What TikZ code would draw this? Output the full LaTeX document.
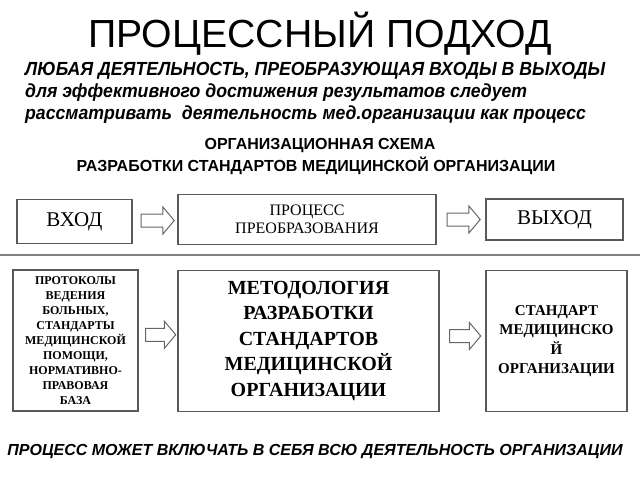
\documentclass[tikz,border=0pt]{standalone}
\usepackage{fontspec}
\setmainfont{Liberation Serif}
\newfontfamily\arial{Liberation Sans}
\usetikzlibrary{shapes.arrows,calc}
\tikzset{
  box/.style={draw=black!65, line width=1.4pt, fill=white, inner sep=0pt, align=center},
  blockarrow/.style={single arrow, draw=black!60, line width=1pt, fill=white,
     minimum height=33pt, minimum width=26pt, inner xsep=0pt, inner ysep=6pt,
     single arrow head extend=7pt, single arrow tip angle=100},
  sep/.style={draw=black!50, line width=2.5pt},
  itline/.style={anchor=west, inner sep=0pt, xscale=0.93},
}
\begin{document}
\begin{tikzpicture}[x=1pt,y=-1pt]
\useasboundingbox (0,0) rectangle (640,480);
\node (title) at (320,34) {\arial\fontsize{39.2}{44}\selectfont ПРОЦЕССНЫЙ ПОДХОД};
\node[anchor=west, inner sep=0pt] (l1) at (25,71) {\arial\bfseries\itshape\fontsize{19}{22}\selectfont\scalebox{0.93}[1]{ЛЮБАЯ ДЕЯТЕЛЬНОСТЬ, ПРЕОБРАЗУЮЩАЯ ВХОДЫ В ВЫХОДЫ}};
\node[anchor=west, inner sep=0pt] (l2) at (25,93) {\arial\bfseries\itshape\fontsize{19}{22}\selectfont\scalebox{0.93}[1]{для эффективного достижения результатов следует}};
\node[anchor=west, inner sep=0pt] (l3) at (25,115) {\arial\bfseries\itshape\fontsize{19}{22}\selectfont\scalebox{0.93}[1]{рассматривать\ \ деятельность мед.организации как процесс}};
\node (s1) at (320,146) {\arial\bfseries\fontsize{16}{18}\selectfont ОРГАНИЗАЦИОННАЯ СХЕМА};
\node (s2) at (316,166) {\arial\bfseries\fontsize{16}{18}\selectfont РАЗРАБОТКИ СТАНДАРТОВ МЕДИЦИНСКОЙ ОРГАНИЗАЦИИ};

\node[box, minimum width=115pt, minimum height=44pt] (vhod) at (74.5,221.5) {\fontsize{21}{24}\selectfont ВХОД};
\node[box, minimum width=258pt, minimum height=50pt, font=\fontsize{16}{18.5}\selectfont] (proc) at (307,219.5) {ПРОЦЕСС\\ПРЕОБРАЗОВАНИЯ};
\node[box, minimum width=137pt, minimum height=41pt] (vyhod) at (554.5,219.5) {\fontsize{21}{24}\selectfont ВЫХОД};
\node[blockarrow] (a1) at ($(vhod.east)!0.5!(proc.west)$) {};
\node[blockarrow] (a2) at ($(proc.east)!0.5!(vyhod.west)$) {};

\coordinate (ls) at (0,255);
\coordinate (le) at (640,255);
\draw[sep] (ls) -- (le);

\node[box, minimum width=125pt, minimum height=141pt, font=\bfseries\fontsize{12}{15}\selectfont] (prot) at (75.5,340.5) {ПРОТОКОЛЫ\\ВЕДЕНИЯ\\БОЛЬНЫХ,\\СТАНДАРТЫ\\МЕДИЦИНСКОЙ\\ПОМОЩИ,\\НОРМАТИВНО-\\ПРАВОВАЯ\\БАЗА};
\node[box, minimum width=261pt, minimum height=141pt, font=\bfseries\fontsize{20}{25.5}\selectfont] (metod) at (308.5,341) {МЕТОДОЛОГИЯ\\РАЗРАБОТКИ\\СТАНДАРТОВ\\МЕДИЦИНСКОЙ\\ОРГАНИЗАЦИИ};
\node[box, minimum width=141pt, minimum height=141pt, font=\bfseries\fontsize{15}{19.5}\selectfont] (std) at (556.5,341) {СТАНДАРТ\\МЕДИЦИНСКО\\Й\\ОРГАНИЗАЦИИ};
\node[blockarrow, minimum height=30pt] (a3) at ($(prot.east)!0.5!(metod.west)+(0,-6)$) {};
\node[blockarrow, minimum height=31pt] (a4) at ($(metod.east)!0.5!(std.west)+(0,-5)$) {};

\node (bottom) at (315,452) {\arial\bfseries\itshape\fontsize{16}{18}\selectfont ПРОЦЕСС МОЖЕТ ВКЛЮЧАТЬ В СЕБЯ ВСЮ ДЕЯТЕЛЬНОСТЬ ОРГАНИЗАЦИИ};
\end{tikzpicture}
\end{document}
